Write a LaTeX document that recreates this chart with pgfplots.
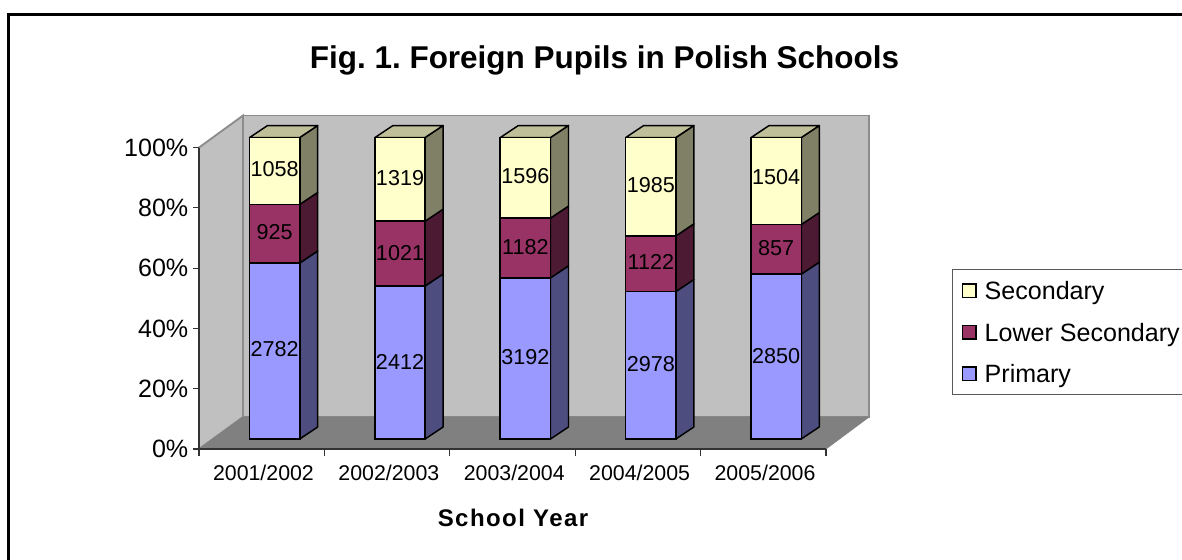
\documentclass[border=0pt]{standalone}
\usepackage{pgfplots}
\pgfplotsset{compat=1.18}
\usepackage{fontspec}
\setmainfont{Liberation Sans}
\frenchspacing
\definecolor{wall}{HTML}{C0C0C0}
\definecolor{floorc}{HTML}{808080}
\definecolor{edgec}{HTML}{8C8C8C}
\definecolor{prim}{HTML}{9999FF}
\definecolor{primS}{HTML}{4D4D80}
\definecolor{low}{HTML}{993366}
\definecolor{lowS}{HTML}{4D1A33}
\definecolor{sec}{HTML}{FFFFCC}
\definecolor{secS}{HTML}{808066}
\definecolor{secT}{HTML}{BFBF99}
\pgfplotsset{
  base/.style={width=470.25pt,height=226.1pt,scale only axis,xmin=0,xmax=5,ymin=0,ymax=100,clip=false},
  side/.style={fill=#1,draw=black,line width=1.1pt,line join=round,forget plot,mark=none},
}
\begin{document}
\begin{tikzpicture}
\path[use as bounding box] (0,0) rectangle (886.5pt,-420pt);
\draw[black,line width=2.2pt] (6.2pt,-420pt) -- (6.2pt,-11.2pt) -- (886.5pt,-11.2pt);
% walls, floor, axes and the sides of the bars
\begin{axis}[base,at={(149.25pt,-336.75pt)},anchor=south west,
  axis x line=bottom,axis y line=left,axis line style={-,draw=black!80,line width=0.8pt},
  axis on top,
  xtick={0.514,1.514,2.514,3.514,4.514},
  xticklabels={2001/2002,2002/2003,2003/2004,2004/2005,2005/2006},
  major x tick style={draw=none},
  minor xtick={0,1,2,3,4,5},
  minor tick length=5.5pt,
  minor x tick style={draw=black!80,line width=0.8pt},
  x tick label style={font=\fontsize{16}{16}\selectfont,yshift=-4pt},
  ytick={0,20,40,60,80,100},
  yticklabels={0\%,20\%,40\%,60\%,80\%,100\%},
  y tick label style={font=\fontsize{18.8}{19}\selectfont},
  y tick style={draw=black!80,line width=0.8pt},
  tick align=outside,major tick length=4.5pt,
  title={Fig. 1. Foreign Pupils in Polish Schools},
  title style={at={(axis description cs:0.6467,1.2635)},anchor=center,font=\fontsize{23.6}{24}\selectfont\bfseries},
  xlabel={School Year},
  xlabel style={at={(axis description cs:0.5008,-0.2289)},anchor=center,font=\fontsize{18}{19}\selectfont\bfseries\addfontfeature{LetterSpace=6}},
]
\addplot[fill=wall,draw=edgec,line width=1.4pt,forget plot] coordinates {(0,0)(0.351,10.61)(0.351,110.61)(0,100)} -- cycle;
\addplot[fill=wall,draw=edgec,line width=1.4pt,forget plot] coordinates {(0.351,10.61)(5.343,10.61)(5.343,110.61)(0.351,110.61)} -- cycle;
\addplot[fill=floorc,draw=floorc,line width=0.5pt,forget plot] coordinates {(0,0)(0.351,10.61)(5.343,10.61)(5,0)} -- cycle;
% 2001/2002
\addplot[side=primS] coordinates {(0.803,3.32)(0.9465,7.30)(0.9465,65.68)(0.803,61.70)} -- cycle;
\addplot[side=lowS] coordinates {(0.803,61.70)(0.9465,65.68)(0.9465,85.10)(0.803,81.12)} -- cycle;
\addplot[side=secS] coordinates {(0.803,81.12)(0.9465,85.10)(0.9465,107.30)(0.803,103.32)} -- cycle;
\addplot[side=secT] coordinates {(0.403,103.32)(0.803,103.32)(0.9465,107.30)(0.5465,107.30)} -- cycle;
% 2002/2003
\addplot[side=primS] coordinates {(1.803,3.32)(1.9465,7.30)(1.9465,58.06)(1.803,54.08)} -- cycle;
\addplot[side=lowS] coordinates {(1.803,54.08)(1.9465,58.06)(1.9465,79.54)(1.803,75.56)} -- cycle;
\addplot[side=secS] coordinates {(1.803,75.56)(1.9465,79.54)(1.9465,107.30)(1.803,103.32)} -- cycle;
\addplot[side=secT] coordinates {(1.403,103.32)(1.803,103.32)(1.9465,107.30)(1.5465,107.30)} -- cycle;
% 2003/2004
\addplot[side=primS] coordinates {(2.803,3.32)(2.9465,7.30)(2.9465,60.77)(2.803,56.79)} -- cycle;
\addplot[side=lowS] coordinates {(2.803,56.79)(2.9465,60.77)(2.9465,80.57)(2.803,76.59)} -- cycle;
\addplot[side=secS] coordinates {(2.803,76.59)(2.9465,80.57)(2.9465,107.30)(2.803,103.32)} -- cycle;
\addplot[side=secT] coordinates {(2.403,103.32)(2.803,103.32)(2.9465,107.30)(2.5465,107.30)} -- cycle;
% 2004/2005
\addplot[side=primS] coordinates {(3.803,3.32)(3.9465,7.30)(3.9465,56.24)(3.803,52.26)} -- cycle;
\addplot[side=lowS] coordinates {(3.803,52.26)(3.9465,56.24)(3.9465,74.68)(3.803,70.70)} -- cycle;
\addplot[side=secS] coordinates {(3.803,70.70)(3.9465,74.68)(3.9465,107.30)(3.803,103.32)} -- cycle;
\addplot[side=secT] coordinates {(3.403,103.32)(3.803,103.32)(3.9465,107.30)(3.5465,107.30)} -- cycle;
% 2005/2006
\addplot[side=primS] coordinates {(4.803,3.32)(4.9465,7.30)(4.9465,61.99)(4.803,58.01)} -- cycle;
\addplot[side=lowS] coordinates {(4.803,58.01)(4.9465,61.99)(4.9465,78.44)(4.803,74.46)} -- cycle;
\addplot[side=secS] coordinates {(4.803,74.46)(4.9465,78.44)(4.9465,107.30)(4.803,103.32)} -- cycle;
\addplot[side=secT] coordinates {(4.403,103.32)(4.803,103.32)(4.9465,107.30)(4.5465,107.30)} -- cycle;
\end{axis}
% front faces: shares of the pupils in each year, in per cent
\begin{axis}[base,at={(149.25pt,-329.25pt)},anchor=south west,hide axis,
  ybar stacked,bar width=37.8pt,reverse legend,
  legend style={at={(rel axis cs:1.2010,0.5638)},anchor=north west,draw=black!65,line width=0.8pt,
    font=\fontsize{18.8}{19}\selectfont,inner xsep=7pt,inner ysep=9pt,row sep=17.5pt,
    nodes={anchor=west,inner sep=0pt,text depth=0pt},
    /tikz/every odd column/.append style={column sep=6pt}},
  legend image code/.code={\draw[#1,draw=black,line width=1.1pt] (0pt,-5pt) rectangle (10pt,5pt);},
  every axis plot/.append style={draw=black,line width=1.1pt},
]
\addplot[fill=prim] coordinates {(0.603,58.38)(1.603,50.76)(2.603,53.47)(3.603,48.94)(4.603,54.69)};
\addlegendentry{Primary}
\addplot[fill=low] coordinates {(0.603,19.41)(1.603,21.49)(2.603,19.80)(3.603,18.44)(4.603,16.45)};
\addlegendentry{Lower Secondary}
\addplot[fill=sec] coordinates {(0.603,22.20)(1.603,27.76)(2.603,26.73)(3.603,32.62)(4.603,28.86)};
\addlegendentry{Secondary}
\end{axis}
% the pupil counts on the bars
\begin{axis}[base,at={(149.25pt,-329.25pt)},anchor=south west,hide axis,
  nodes near coords,point meta=explicit symbolic,
  every node near coord/.style={anchor=center,inner sep=0pt,font=\fontsize{16.2}{17}\selectfont,text=black},
]
\addplot[draw=none,mark=none] coordinates {
 (0.603,29.9)[2782] (1.603,25.7)[2412] (2.603,27.1)[3192] (3.603,24.9)[2978] (4.603,27.35)[2850]
 (0.603,68.7)[925] (1.603,61.8)[1021] (2.603,63.7)[1182] (3.603,58.7)[1122] (4.603,63.2)[857]
 (0.603,89.5)[1058] (1.603,86.7)[1319] (2.603,87.2)[1596] (3.603,84.3)[1985] (4.603,86.9)[1504]};
\end{axis}
\end{tikzpicture}
\end{document}
